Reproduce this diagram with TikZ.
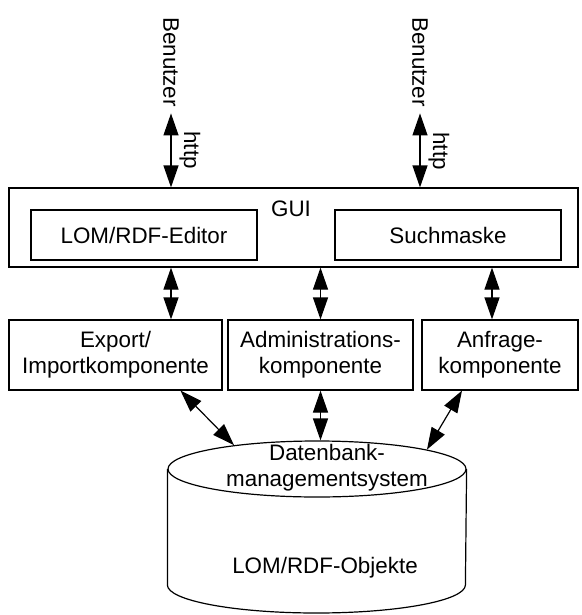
\documentclass[tikz,border=0pt]{standalone}
\usepackage{fontspec}
\setmainfont{Liberation Sans}
\usetikzlibrary{arrows.meta,shapes.geometric}

\begin{document}
\begin{tikzpicture}[x=1pt,y=-1pt,line width=1.2pt,inner sep=4pt,
    every node/.style={font=\fontsize{22.4}{26}\selectfont}]
    \tikzstyle{box}=[draw,inner sep=0pt,align=center]
    \tikzstyle{tip}=[{Triangle[length=22pt,width=15pt]}-{Triangle[length=22pt,width=15pt]}]
    \tikzstyle{turned}=[rotate=-90]

    \useasboundingbox (0,0) rectangle (581,615);

    % The users on top
    \node[turned] (user1) at (171,62) {Benutzer};
    \node[turned] (user2) at (420,62) {Benutzer};
    \node[turned] (http1) at (190,150) {http};
    \node[turned] (http2) at (439,151) {http};

    % The GUI with its two parts
    \node[box,minimum width=569,minimum height=79] (gui) at (293.5,227.5) {};
    \node (guitext) at (291,209) {GUI};
    \node[box,minimum width=226,minimum height=50] (editor) at (144,235) {LOM/RDF-Editor};
    \node[box,minimum width=226,minimum height=50] (such) at (448,235) {Suchmaske};

    % The components
    \node[box,minimum width=213,minimum height=70] (export) at (115.5,355) {Export/\\Importkomponente};
    \node[box,minimum width=185,minimum height=70] (admin) at (320.5,355) {Administrations-\\komponente};
    \node[box,minimum width=156,minimum height=70] (anfrage) at (500,355) {Anfrage-\\komponente};

    % The database
    \node[draw,ellipse,inner sep=0pt,minimum width=298,minimum height=56] (db) at (317,469) {};
    \draw (db.west) -- ++(0,116) arc[start angle=180,end angle=0,x radius=149,y radius=28] -- (db.east);
    \node[align=center] (dbms) at (327,468) {Datenbank-\\managementsystem};
    \node (objekte) at (325,568) {LOM/RDF-Objekte};

    % Connect everything
    \draw[tip] ([yshift=-2]user1.east) -- (user1.east |- gui.north);
    \draw[tip] ([yshift=-2]user2.east) -- (user2.east |- gui.north);
    \draw[tip] (gui.south -| user1) -- (export.north -| user1);
    \draw[tip] (gui.south -| admin) -- (admin.north);
    \draw[tip] ([xshift=-8]gui.south -| anfrage) -- ([xshift=-8]anfrage.north);
    \draw[tip] ([xshift=65]export.south) -- (db.164);
    \draw[tip] (admin.south) -- (db.north -| admin);
    \draw[tip] ([xshift=-38]anfrage.south) -- (db.10);
\end{tikzpicture}
\end{document}
